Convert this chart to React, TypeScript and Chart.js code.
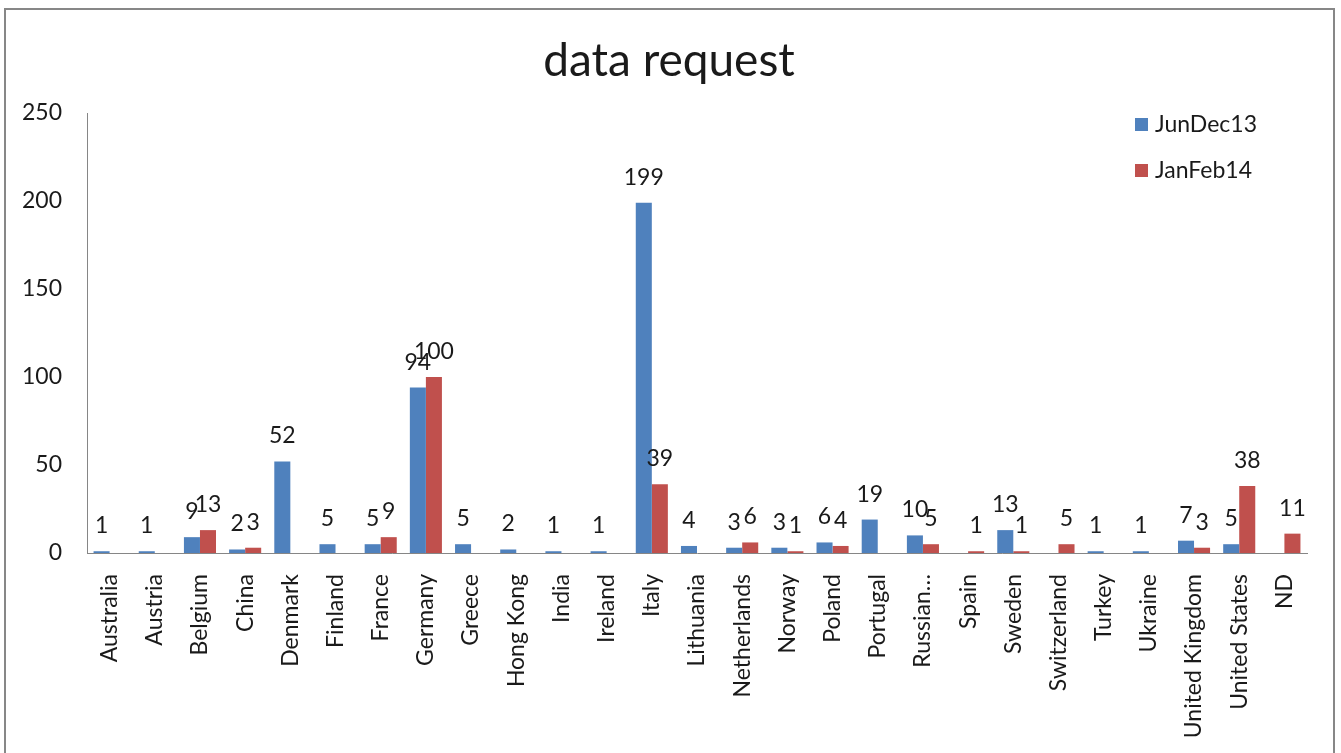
import React, { useEffect, useRef } from "react";
import { Chart, registerables } from "chart.js";

Chart.register(...registerables);

const categories = [
  "Australia", "Austria", "Belgium", "China", "Denmark", "Finland", "France", "Germany",
  "Greece", "Hong Kong", "India", "Ireland", "Italy", "Lithuania", "Netherlands", "Norway",
  "Poland", "Portugal", "Russian…", "Spain", "Sweden", "Switzerland", "Turkey", "Ukraine",
  "United Kingdom", "United States", "ND",
];
const junDec13: (number | null)[] = [
  1, 1, 9, 2, 52, 5, 5, 94, 5, 2, 1, 1, 199, 4, 3, 3, 6, 19, 10, null, 13, null, 1, 1, 7, 5, null,
];
const janFeb14: (number | null)[] = [
  null, null, 13, 3, null, null, 9, 100, null, null, null, null, 39, null, 6, 1, 4, null, 5, 1, 1, 5,
  null, null, 3, 38, 11,
];
const seriesNames = ["JunDec13", "JanFeb14"];
const seriesColors = ["#4F81BD", "#C0504D"];
const yTicks = [0, 50, 100, 150, 200, 250];
const titleText = "data request";

const FONT = "Lato";
const TEXT = "#1a1a1a";

const labelPlugin = {
  id: "barLabels",
  afterDatasetsDraw(chart: any) {
    const ctx = chart.ctx;
    ctx.save();
    ctx.font = `23px ${FONT}`;
    ctx.fillStyle = TEXT;
    ctx.textAlign = "center";
    ctx.textBaseline = "alphabetic";
    chart.data.datasets.forEach((ds: any, di: number) => {
      const meta = chart.getDatasetMeta(di);
      meta.data.forEach((bar: any, i: number) => {
        const v = ds.data[i];
        if (v === null || v === undefined) return;
        ctx.fillText(String(v), bar.x, bar.y - 18);
      });
    });
    ctx.restore();
  },
};

const legendTitlePlugin = {
  id: "customLegendTitle",
  afterDraw(chart: any) {
    const ctx = chart.ctx;
    ctx.save();
    ctx.font = `46px ${FONT}`;
    ctx.fillStyle = TEXT;
    ctx.textAlign = "center";
    ctx.textBaseline = "middle";
    ctx.fillText(titleText, 669, 61);
    ctx.font = `23px ${FONT}`;
    ctx.textAlign = "left";
    seriesNames.forEach((name, i) => {
      const cy = 124 + i * 46;
      ctx.fillStyle = seriesColors[i];
      ctx.fillRect(1135, cy - 6, 13, 13);
      ctx.fillStyle = TEXT;
      ctx.fillText(name, 1155, cy + 1);
    });
    ctx.restore();
  },
};

export default function App() {
  const ref = useRef<HTMLCanvasElement>(null);
  useEffect(() => {
    if (!ref.current) return;
    const chart = new Chart(ref.current, {
      type: "bar",
      data: {
        labels: categories,
        datasets: [
          { label: seriesNames[0], data: junDec13, backgroundColor: seriesColors[0], categoryPercentage: 0.71, barPercentage: 1 },
          { label: seriesNames[1], data: janFeb14, backgroundColor: seriesColors[1], categoryPercentage: 0.71, barPercentage: 1 },
        ],
      },
      options: {
        responsive: false,
        animation: false,
        layout: { padding: { left: 0, right: 34, top: 113, bottom: 0 } },
        plugins: {
          legend: { display: false },
          tooltip: { enabled: false },
          title: { display: false },
        },
        scales: {
          x: {
            grid: { display: false },
            border: { display: true, color: "#868686", width: 1 },
            ticks: {
              color: TEXT,
              font: { family: FONT, size: 23 },
              maxRotation: 90,
              minRotation: 90,
              autoSkip: false,
              padding: 13,
            },
            afterFit: (s: any) => { s.height = 200; },
          },
          y: {
            min: 0,
            max: 250,
            afterBuildTicks: (s: any) => { s.ticks = yTicks.map((v) => ({ value: v })); },
            grid: { display: false },
            border: { display: true, color: "#868686", width: 1 },
            ticks: { color: TEXT, font: { family: FONT, size: 23 }, padding: 17 },
            afterFit: (s: any) => { s.width = 87; },
          },
        },
      },
      plugins: [labelPlugin, legendTitlePlugin],
    });
    return () => chart.destroy();
  }, []);
  return (
    <div style={{ position: "fixed", left: 0, top: 0, width: 1341, height: 753, background: "#fff", overflow: "hidden" }}>
      <canvas ref={ref} width={1341} height={753} style={{ position: "absolute", left: 0, top: 0 }} />
      <div style={{ position: "absolute", left: 4, top: 8, width: 1327, height: 800, border: "2px solid #878787", pointerEvents: "none" }} />
    </div>
  );
}
